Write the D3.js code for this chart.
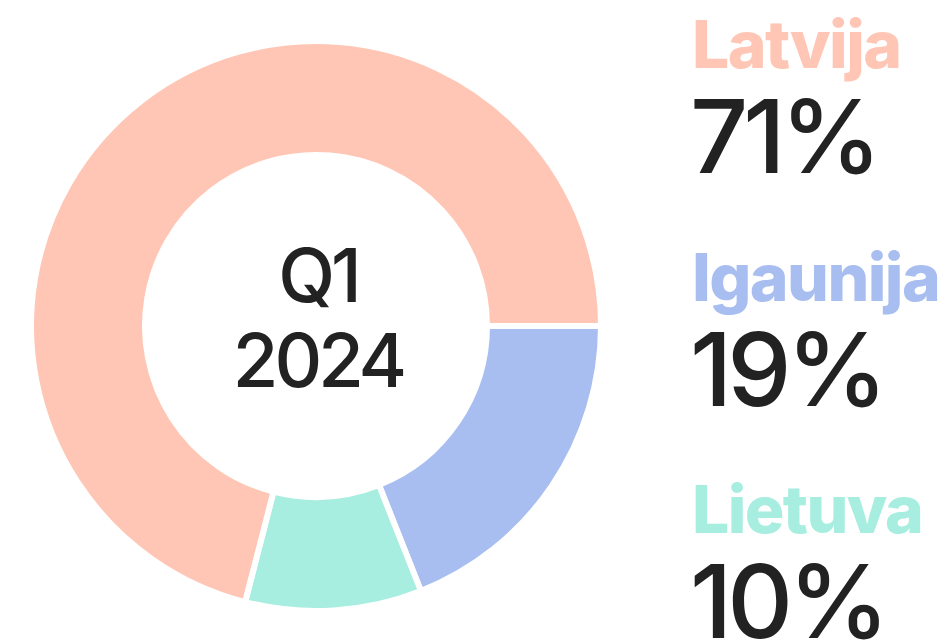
<!DOCTYPE html>
<html>
<head>
<meta charset="utf-8">
<script src="https://cdn.jsdelivr.net/npm/d3@7"></script>
<style>
  body { margin: 0; background: #fff; }
  svg text { font-family: Inter, "Noto Sans", sans-serif; }
</style>
</head>
<body>
<div id="chart"></div>
<script>
// data
var names = ["Igaunija", "Lietuva", "Latvija"];
var values = [19, 10, 71];
var colors = ["#a9bef0", "#a8eee0", "#ffc6b5"];
var legendOrder = ["Latvija", "Igaunija", "Lietuva"];
var centerLines = ["Q1", "2024"];

var width = 948, height = 642;

var svg = d3.select("#chart")
    .append("svg")
    .attr("width", width)
    .attr("height", height);

var cx = 316, cy = 326;

var pie = d3.pie()
    .sort(null)
    .startAngle(Math.PI / 2)
    .endAngle(Math.PI / 2 + 2 * Math.PI)
    .value(function (d) { return d; });

var arc = d3.arc()
    .innerRadius(171)
    .outerRadius(285);

var donut = svg.append("g")
    .attr("transform", "translate(" + cx + "," + cy + ")");

donut.selectAll("path")
    .data(pie(values))
    .enter().append("path")
    .attr("d", arc)
    .attr("fill", function (d, i) { return colors[i]; })
    .attr("stroke", "#fff")
    .attr("stroke-width", 6)
    .attr("stroke-linejoin", "miter");

// center text
donut.selectAll(".center")
    .data(centerLines)
    .enter().append("text")
    .attr("class", "center")
    .attr("text-anchor", "middle")
    .attr("x", 2)
    .attr("y", function (d, i) { return i === 0 ? -24 : 61; })
    .attr("font-size", 74)
    .attr("font-weight", 500)
    .attr("letter-spacing", -4)
    .attr("fill", "#222")
    .text(function (d) { return d; });

// legend
var yScale = d3.scalePoint()
    .domain(legendOrder)
    .range([68, 533]);

var legend = svg.selectAll(".legend")
    .data(legendOrder)
    .enter().append("g")
    .attr("class", "legend")
    .attr("transform", function (d) { return "translate(692," + yScale(d) + ")"; });

legend.append("text")
    .attr("font-size", 66)
    .attr("font-weight", 800)
    .attr("letter-spacing", -1.6)
    .attr("fill", function (d) { return colors[names.indexOf(d)]; })
    .text(function (d) { return d; });

legend.append("text")
    .attr("y", 105)
    .attr("x", -2)
    .attr("font-size", 102)
    .attr("font-weight", 500)
    .attr("letter-spacing", -5)
    .attr("fill", "#222")
    .text(function (d) { return values[names.indexOf(d)] + "%"; });
</script>
</body>
</html>
